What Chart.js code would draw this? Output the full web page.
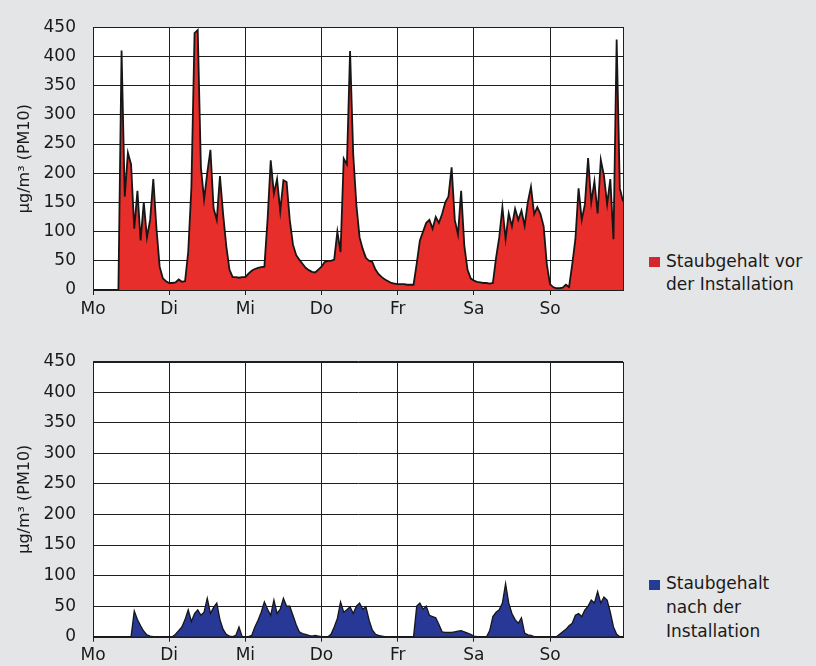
<!DOCTYPE html>
<html lang="de">
<head>
<meta charset="utf-8">
<script src="https://cdn.jsdelivr.net/npm/chart.js@4"></script>
<style>
  body { margin: 0; background: #e4e5e7; width: 816px; height: 666px; position: relative; overflow: hidden; font-family: "DejaVu Sans", sans-serif; color: #1a1a1a; }
  canvas { position: absolute; left: 0; }
  #c1 { top: 0; }
  #c2 { top: 333px; }
  .legend { position: absolute; left: 666px; font-size: 17px; }
  .legend .box { position: absolute; left: -17px; width: 11px; height: 10px; }
</style>
</head>
<body>
<canvas id="c1" width="640" height="333"></canvas>
<canvas id="c2" width="640" height="333"></canvas>

<div class="legend" style="top:250px; line-height:23px;">
  <span class="box" style="top:7px; background:#d5262f;"></span>
  Staubgehalt vor<br>der Installation
</div>
<div class="legend" style="top:571px; line-height:24px;">
  <span class="box" style="top:9px; background:#243c94;"></span>
  Staubgehalt<br>nach der<br>Installation
</div>

<script>
// Wochentage (Ticks alle 24 Stunden)
const tage = ['Mo', 'Di', 'Mi', 'Do', 'Fr', 'Sa', 'So'];
const yTicks = [0, 50, 100, 150, 200, 250, 300, 350, 400, 450];

// Stunden der Woche, 0..167
const stunden = Array.from({ length: 168 }, (_, i) => i);

const vorher = [
  0, 0, 0, 0, 0, 0, 0, 0, 0, 410, 160, 235, 215, 105, 170, 85, 150, 90, 120, 190, 105, 40, 20, 15,
  12, 12, 13, 18, 14, 15, 65, 175, 440, 445, 210, 155, 200, 240, 140, 120, 195, 130, 75, 35, 22, 22, 21, 22,
  22, 28, 33, 36, 38, 39, 40, 120, 222, 165, 190, 135, 188, 185, 120, 78, 60, 52, 45, 38, 34, 31, 30, 35,
  40, 48, 50, 50, 52, 100, 65, 225, 215, 409, 232, 145, 90, 70, 55, 50, 48, 35, 27, 22, 18, 15, 12, 11,
  10, 10, 10, 9, 9, 9, 45, 85, 100, 115, 120, 105, 125, 115, 130, 150, 160, 210, 120, 95, 170, 76, 35, 20,
  16, 14, 13, 12, 12, 11, 12, 55, 90, 142, 87, 131, 109, 139, 120, 136, 110, 150, 177, 130, 142, 130, 109, 44,
  10, 5, 3, 3, 4, 9, 5, 44, 87, 174, 120, 147, 226, 150, 186, 131, 223, 196, 147, 190, 87, 429, 174, 152
];

// Staubgehalt nach der Installation (µg/m³)
const nachher = [
  0, 0, 0, 0, 0, 0, 0, 0, 0, 0, 0, 0, 0, 42, 28, 18, 9, 3, 1, 0, 0, 0, 0, 0,
  0, 0, 4, 10, 16, 28, 44, 25, 38, 44, 35, 40, 63, 38, 48, 55, 28, 12, 4, 1, 0, 2, 16, 0,
  0, 0, 2, 16, 27, 40, 57, 45, 35, 60, 38, 45, 63, 50, 50, 35, 20, 8, 5, 4, 2, 1, 2, 1,
  0, 0, 0, 4, 16, 30, 57, 40, 44, 49, 38, 50, 55, 45, 49, 27, 11, 4, 2, 1, 0, 0, 0, 0,
  0, 0, 0, 0, 0, 0, 50, 55, 45, 50, 35, 33, 31, 20, 8, 7, 7, 7, 8, 9, 10, 8, 6, 4,
  1, 0, 0, 0, 0, 10, 33, 40, 44, 55, 87, 55, 38, 28, 22, 31, 6, 3, 2, 0, 0, 0, 0, 0,
  0, 0, 0, 4, 8, 12, 18, 22, 35, 38, 33, 44, 50, 60, 55, 74, 55, 65, 60, 40, 16, 4, 0, 0
];

// weißer Plotbereich + Rahmen
const plotFlaeche = {
  id: 'plotFlaeche',
  beforeDraw(chart) {
    const a = chart.chartArea, c = chart.ctx;
    c.save();
    c.fillStyle = '#ffffff';
    c.fillRect(a.left, a.top, a.right - a.left, a.bottom - a.top);
    c.restore();
  },
  afterDraw(chart) {
    const a = chart.chartArea, c = chart.ctx;
    c.save();
    c.strokeStyle = '#1e1e1e';
    c.lineWidth = 1;
    c.strokeRect(Math.round(a.left) + 0.5, Math.round(a.top) + 0.5,
      Math.round(a.right - a.left), Math.round(a.bottom - a.top));
    c.restore();
  }
};

function zeichne(id, werte, farbe, linie, oben, xHoehe) {
  return new Chart(document.getElementById(id), {
    type: 'line',
    data: {
      datasets: [{
        data: stunden.map((h, i) => ({ x: h, y: werte[i] })),
        backgroundColor: farbe,
        borderColor: '#161616',
        borderWidth: linie,
        pointRadius: 0,
        tension: 0,
        fill: 'origin'
      }]
    },
    options: {
      responsive: false,
      animation: false,
      layout: { padding: { top: oben, right: 17, left: 0, bottom: 0 } },
      plugins: { legend: { display: false }, tooltip: { enabled: false } },
      scales: {
        x: {
          type: 'linear',
          min: 0,
          max: 167,
          afterBuildTicks: s => { s.ticks = tage.map((t, i) => ({ value: i * 24 })); },
          afterFit: s => { s.height = xHoehe; },
          ticks: {
            autoSkip: false, maxRotation: 0, padding: 4,
            color: '#1a1a1a',
            font: { family: 'DejaVu Sans', size: 17 },
            callback: v => tage[v / 24]
          },
          grid: { color: '#1e1e1e', lineWidth: 1, tickLength: 5 },
          border: { color: '#1e1e1e' }
        },
        y: {
          min: 0,
          max: 450,
          afterBuildTicks: s => { s.ticks = yTicks.map(v => ({ value: v })); },
          afterFit: s => { s.width = 93; },
          ticks: {
            padding: 17,
            color: '#1a1a1a',
            font: { family: 'DejaVu Sans', size: 17 }
          },
          grid: { color: '#1e1e1e', lineWidth: 1, drawTicks: false },
          border: { color: '#1e1e1e' },
          title: {
            display: true,
            text: 'µg/m³ (PM10)',
            color: '#1a1a1a',
            font: { family: 'DejaVu Sans', size: 16 },
            padding: { top: 15, bottom: 0 }
          }
        }
      }
    },
    plugins: [plotFlaeche]
  });
}

zeichne('c1', vorher, 'rgb(232, 46, 43)', 1.8, 14.5, 43);
zeichne('c2', nachher, 'rgb(40, 56, 150)', 1.3, 28.7, 29.3);
</script>
</body>
</html>
